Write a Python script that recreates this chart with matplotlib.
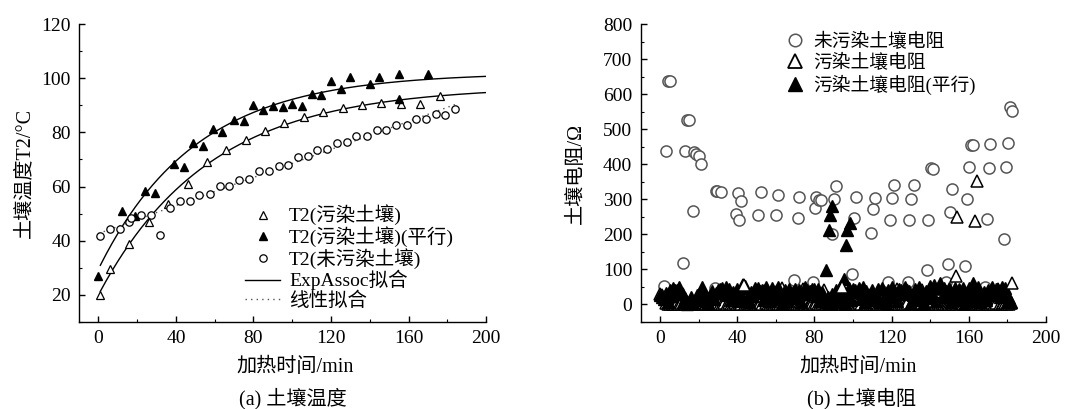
import numpy as np
import matplotlib
matplotlib.use("Agg")
import matplotlib.pyplot as plt
from matplotlib.lines import Line2D
from matplotlib.ticker import MultipleLocator

plt.rcParams['font.family'] = ['Liberation Serif', 'Noto Sans CJK SC']
plt.rcParams['axes.unicode_minus'] = False

# ---- (a) soil temperature ----
t_pol = [1, 6, 16, 26, 36, 46, 56, 66, 76, 86, 96, 106, 116, 126, 136, 146, 156, 166, 176]
T_pol = [20, 29.5, 38.7, 47, 53.5, 61, 69, 73.5, 77, 80.5, 83.3, 85.5, 87.6, 89, 90,
         90.8, 90.4, 90.4, 93.6]

t_par = [0, 12, 19, 24, 29, 39, 44, 49, 54, 59, 64, 70, 75, 80, 85, 90, 95, 100, 105,
         110, 115, 120, 125, 130, 140, 145, 155, 155, 170]
T_par = [26.9, 51, 49.3, 58.4, 57.6, 68.2, 67.2, 76, 74.8, 81.2, 80.3, 84.6, 84.3, 90,
         88.3, 89.7, 89.2, 90.4, 89.7, 94.2, 93.7, 98.8, 95.9, 100.5, 97.7, 100.5, 101.4,
         92.4, 101.5]

t_raw = [1, 6, 11, 16, 17, 22, 27, 32, 37, 42, 47, 52, 57.5, 62.5, 67.5, 72.5, 77.5, 83,
         88, 93, 98, 103, 108, 113, 118, 123, 128, 133, 138.5, 143.5, 148.5, 153.5, 159,
         164, 169, 174, 179, 184]
T_raw = [41.9, 44.3, 44.3, 46.8, 48.4, 49.6, 49.6, 42.1, 52.2, 54.5, 54.8, 57, 57.2, 60.3,
         60.3, 62.5, 62.7, 65.6, 65.8, 67.7, 67.9, 70.9, 71.1, 73.4, 73.7, 76, 76.3, 78.7,
         78.7, 80.9, 80.9, 82.8, 82.8, 85, 85, 86.8, 86.3, 88.5]

# ExpAssoc fit parameters: y0, A, t
fit_pol = (20.0, 77.0, 57.0)
fit_par = (29.5, 72.5, 50.0)

# ---- (b) soil resistance ----
raw_t = [2.1, 3.1, 4.3, 5.2, 12.1, 13.1, 14.1, 15.2, 17.2, 17.9, 18.8, 20.4, 21.2, 28.3,
         29.0, 29.7, 31.4, 39.3, 40.2, 41.2, 42.2, 51.0, 52.3, 60.2, 61.3, 69.2, 71.3, 72.3,
         79.1, 80.2, 81.0, 82.4, 83.4, 89.3, 90.3, 91.0, 99.3, 100.4, 101.4, 109.5, 110.2,
         111.2, 118.3, 119.3, 120.2, 121.2, 128.3, 129.1, 130.2, 131.4, 138.3, 139.1, 140.2,
         141.4, 148.3, 149.2, 150.2, 151.2, 158.3, 159.3, 160.3, 161.4, 162.4, 168.3, 169.5,
         170.4, 171.2, 178.3, 179.3, 180.3, 181.2, 182.4]
raw_r = [53, 437, 638, 638, 119, 439, 527, 527, 267, 435, 428, 424, 401, 48,
         323, 324, 321, 257, 319, 240, 295, 255, 320, 255, 313, 71, 248, 306,
         65, 274, 306, 299, 297, 202, 300, 337, 88, 248, 306, 205, 272,
         305, 65, 242, 303, 342, 65, 242, 300, 340, 98, 242, 390,
         386, 65, 116, 264, 329, 111, 300, 392, 455, 454, 50, 243,
         390, 458, 187, 393, 462, 564, 553]

# contaminated soil, sampled every minute
pol_band = [30, 26, 22, 4, 2, 1, 3, 0, 2, 5,
            1, 3, 30, 2, 0, 4, 1, 3, 2, 0,
            5, 2, 30, 3, 1, 0, 4, 2, 25, 1,
            3, 2, 0, 5, 35, 1, 3, 0, 2, 4,
            1, 3, 2, 55, 0, 4, 2, 1, 3, 5,
            0, 2, 4, 1, 38, 3, 0, 2, 5, 1,
            3, 0, 2, 48, 1, 4, 2, 0, 3, 1,
            5, 2, 0, 3, 45, 1, 4, 2, 0, 3,
            1, 4, 2, 0, 3, 40, 1, 5, 2, 0,
            3, 1, 4, 2, 50, 0, 3, 1, 2, 4,
            0, 3, 1, 5, 2, 42, 0, 4, 1, 3,
            2, 0, 4, 1, 3, 38, 2, 5, 0, 1,
            4, 2, 0, 45, 1, 3, 2, 0, 4, 30,
            2, 5, 1, 3, 0, 2, 40, 1, 3, 0,
            4, 2, 45, 1, 3, 0, 5, 2, 1, 4,
            0, 3, 2, 4, 1, 5, 3, 0, 2, 1,
            4, 2, 0, 3, 1, 5, 2, 0, 4, 3,
            1, 2, 5, 0, 3, 44, 2, 1, 4, 3,
            2, 0, 5]
pol_spike_t = [43.8, 94.3, 153.3, 154.1, 163.1, 164.3, 182.3]
pol_spike_r = [55, 50, 81, 250, 238, 351, 60]

# contaminated soil (parallel), sampled every minute
par_band = [28, 22, 15, 34, 8, 40, 25, 48, 40, 42,
            50, 30, 6, 18, 2, 8, 22, 3, 12, 26,
            30, 15, 50, 28, 10, 4, 24, 38, 16, 33,
            40, 44, 48, 38, 50, 26, 44, 12, 36, 22,
            45, 10, 28, 48, 52, 18, 7, 36, 24, 48,
            34, 46, 38, 40, 12, 50, 28, 10, 46, 22,
            38, 51, 16, 5, 28, 42, 10, 45, 24, 36,
            43, 18, 40, 7, 30, 50, 42, 36, 39, 44,
            45, 24, 43, 10, 36, 18, 8, 22, 3, 30,
            14, 42, 26, 6, 48, 20, 4, 32, 46, 12,
            44, 40, 36, 48, 15, 50, 8, 38, 20, 30,
            42, 12, 28, 44, 6, 46, 18, 3, 40, 24,
            50, 22, 36, 10, 44, 42, 30, 50, 40, 38,
            4, 26, 44, 12, 50, 20, 34, 5, 38, 18,
            52, 28, 56, 10, 46, 60, 22, 46, 38, 32,
            48, 6, 30, 48, 14, 44, 24, 46, 5, 32,
            48, 16, 60, 10, 30, 50, 7, 22, 36, 14,
            42, 26, 50, 36, 44, 40, 20, 50, 30, 48,
            8, 18, 6]
par_spike_t = [86.2, 87.6, 88.3, 89.3, 95.2, 96.2, 97.1, 98.3, 162.4]
par_spike_r = [98, 213, 254, 280, 74, 169, 212, 232, 55]
band_t = np.arange(len(par_band))


def exp_assoc(x, y0, a, t):
    return y0 + a * (1 - np.exp(-x / t))


def style_axes(ax):
    for side in ('top', 'right'):
        ax.spines[side].set_visible(False)
    for side in ('left', 'bottom'):
        ax.spines[side].set_linewidth(1.0)
    ax.tick_params(which='both', direction='in', labelsize=14, pad=6)
    ax.tick_params(which='major', length=4, width=1)
    ax.tick_params(which='minor', length=2.5, width=0.8)


fig = plt.figure(figsize=(10.84, 4.09), dpi=100)
ax1 = fig.add_axes([0.0729, 0.2127, 0.3755, 0.7286])
ax2 = fig.add_axes([0.591, 0.2127, 0.3739, 0.7286])

# left panel
xs = np.linspace(1, 200, 200)
ax1.plot(t_pol, T_pol, ls='none', marker='^', ms=5.5, mfc='white', mec='black', mew=0.9,
         label='T2(污染土壤)', zorder=4)
ax1.plot(t_par, T_par, ls='none', marker='^', ms=6, mfc='black', mec='black',
         label='T2(污染土壤)(平行)', zorder=4)
ax1.plot(t_raw, T_raw, ls='none', marker='o', ms=5.3, mfc='white', mec='black', mew=0.9,
         label='T2(未污染土壤)', zorder=4)
ax1.plot(xs, exp_assoc(xs, *fit_pol), color='black', lw=1.0, label='ExpAssoc拟合', zorder=3)
ax1.plot(xs, exp_assoc(xs, *fit_par), color='black', lw=1.0, zorder=3)
k, b = np.polyfit(t_raw, T_raw, 1)
xl = np.linspace(0, 184, 100)
ax1.plot(xl, k * xl + b, color='#555555', lw=1.0, ls=(0, (1, 3)), label='线性拟合', zorder=3)

ax1.set_xlim(-10, 200)
ax1.set_ylim(10, 120)
ax1.xaxis.set_major_locator(MultipleLocator(40))
ax1.xaxis.set_minor_locator(MultipleLocator(20))
ax1.yaxis.set_minor_locator(MultipleLocator(10))
ax1.set_yticks([20, 40, 60, 80, 100, 120])
style_axes(ax1)
ax1.set_xlabel('加热时间/min', fontsize=14.5)
ax1.xaxis.set_label_coords(0.531, -0.12)
ax1.set_ylabel('土壤温度T2/°C', fontsize=14.5, labelpad=5)
ax1.legend(loc='lower left', bbox_to_anchor=(0.375, -0.005), frameon=False, fontsize=14,
           handlelength=1.8, handletextpad=0.45, labelspacing=0.05, borderpad=0.2)

# right panel
ax2.plot(raw_t, raw_r, ls='none', marker='o', ms=8, mfc='white', mec='#555555', mew=1.1,
         zorder=2)
ax2.plot(band_t, pol_band, ls='none', marker='^', ms=8.5, mfc='white', mec='black', mew=1.1,
         zorder=3)
ax2.plot(band_t, par_band, ls='none', marker='^', ms=8.5, mfc='black', mec='black',
         zorder=4)
ax2.plot(par_spike_t, par_spike_r, ls='none', marker='^', ms=8.5, mfc='black', mec='black',
         zorder=4)
ax2.plot(pol_spike_t, pol_spike_r, ls='none', marker='^', ms=8.5, mfc='white', mec='black',
         mew=1.1, zorder=5)

ax2.set_xlim(-10, 200)
ax2.set_ylim(-50, 800)
ax2.xaxis.set_major_locator(MultipleLocator(40))
ax2.xaxis.set_minor_locator(MultipleLocator(20))
ax2.yaxis.set_minor_locator(MultipleLocator(50))
ax2.set_yticks(np.arange(0, 801, 100))
style_axes(ax2)
ax2.set_xlabel('加热时间/min', fontsize=14.5)
ax2.xaxis.set_label_coords(0.536, -0.12)
ax2.set_ylabel('土壤电阻/Ω', fontsize=14.5, labelpad=12)

handles = [
    Line2D([], [], ls='none', marker='o', ms=9, mfc='white', mec='#555555', mew=1.1),
    Line2D([], [], ls='none', marker='^', ms=10, mfc='white', mec='black', mew=1.3),
    Line2D([], [], ls='none', marker='^', ms=10, mfc='black', mec='black'),
]
ax2.legend(handles, ['未污染土壤电阻', '污染土壤电阻', '污染土壤电阻(平行)'],
           loc='upper left', bbox_to_anchor=(0.325, 1.015), frameon=False, fontsize=13.5,
           handlelength=1.0, handletextpad=0.5, labelspacing=0.15, borderpad=0.2)

fig.text(0.27, 0.0245, '(a) 土壤温度', ha='center', va='center', fontsize=14.5)
fig.text(0.795, 0.0245, '(b) 土壤电阻', ha='center', va='center', fontsize=14.5)

fig.savefig('out.png', dpi=100)
